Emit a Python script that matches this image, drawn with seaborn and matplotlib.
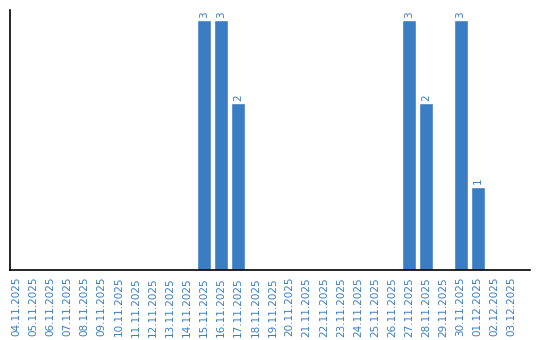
import matplotlib
matplotlib.use("Agg")
import matplotlib.pyplot as plt
import seaborn as sns
import pandas as pd

dates = ["04.11.2025", "05.11.2025", "06.11.2025", "07.11.2025", "08.11.2025",
         "09.11.2025", "10.11.2025", "11.11.2025", "12.11.2025", "13.11.2025",
         "14.11.2025", "15.11.2025", "16.11.2025", "17.11.2025", "18.11.2025",
         "19.11.2025", "20.11.2025", "21.11.2025", "22.11.2025", "23.11.2025",
         "24.11.2025", "25.11.2025", "26.11.2025", "27.11.2025", "28.11.2025",
         "29.11.2025", "30.11.2025", "01.12.2025", "02.12.2025", "03.12.2025"]
counts = [0, 0, 0, 0, 0, 0, 0, 0, 0, 0,
          0, 3, 3, 2, 0, 0, 0, 0, 0, 0,
          0, 0, 0, 3, 2, 0, 3, 1, 0, 0]

df = pd.DataFrame({"date": dates, "count": counts})

sns.set_style("white")
plt.rcParams['font.family'] = ['DejaVu Sans']

BLUE = "#3a7dc2"
TXT = "#3a7dc2"

fig = plt.figure(figsize=(5.4, 3.4), dpi=100)
ax = fig.add_axes([10/540, 70/340, 520/540, 260/340])
sns.barplot(data=df, x="date", y="count", color=BLUE, saturation=1, width=0.82, ax=ax)

for i, v in enumerate(counts):
    if v > 0:
        ax.text(i, v + 0.03, str(v), rotation=90, ha="center", va="bottom",
                fontsize=7.5, color=TXT)

ax.set_xlim(-0.35, 30.06)
ax.set_ylim(0, 3.12)
ax.set_xlabel("")
ax.set_ylabel("")
ax.set_yticks([])
ax.tick_params(axis="x", length=0, pad=5, labelsize=7.5, labelcolor=TXT)
for lbl in ax.get_xticklabels():
    lbl.set_rotation(90)
for s in ["top", "right"]:
    ax.spines[s].set_visible(False)
for s in ["left", "bottom"]:
    ax.spines[s].set_visible(True)
    ax.spines[s].set_color("black")
    ax.spines[s].set_linewidth(1.2)

fig.savefig("out.png", dpi=100)
